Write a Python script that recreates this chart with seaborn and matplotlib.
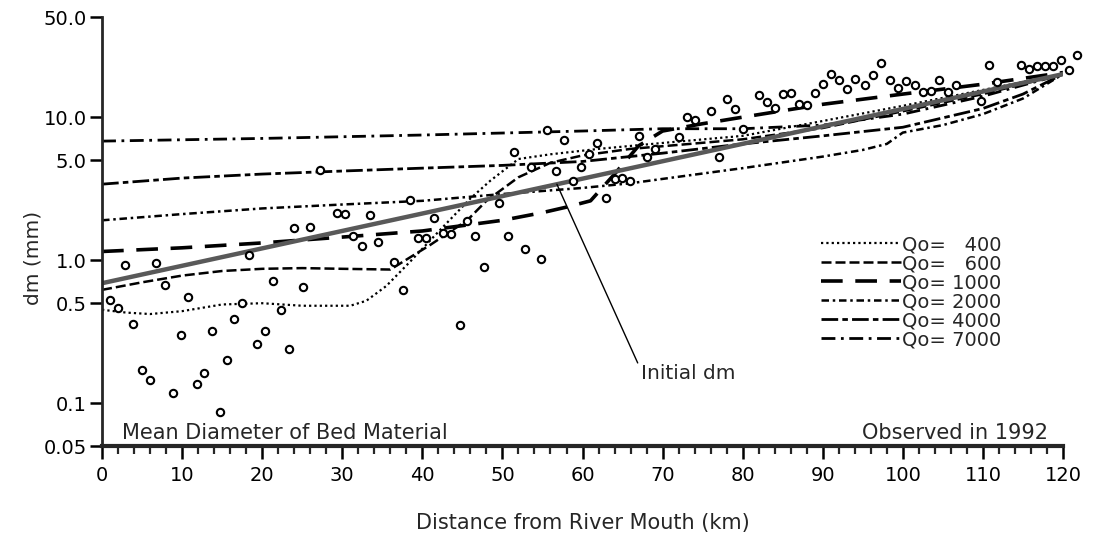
import numpy as np
import matplotlib
matplotlib.use("Agg")
import matplotlib.pyplot as plt
import seaborn as sns
from matplotlib.lines import Line2D

# observed 1992 mean diameter (km, mm)
obs_km = [1.0, 2.0, 2.9, 3.9, 5.0, 6.0, 6.8, 7.8, 8.9, 9.8, 10.7, 11.8, 12.7, 13.7,
          14.7, 15.6, 16.5, 17.5, 18.3, 19.4, 20.4, 21.3, 22.3, 23.3, 24.0, 25.1,
          26.0, 27.2, 29.3, 30.4, 31.4, 32.5, 33.4, 34.5, 36.5, 37.6, 38.4, 39.5,
          40.5, 41.5, 42.6, 43.6, 44.7, 45.6, 46.6, 47.7, 49.6, 50.7, 51.5, 52.8,
          53.6, 54.8, 55.6, 56.7, 57.7, 58.8, 59.8, 60.8, 61.8, 62.9, 64.1, 64.9,
          65.9, 67.0, 68.0, 69.0, 72.0, 73.0, 74.0, 76.0, 77.0, 78.0, 79.0, 80.0,
          82.0, 83.0, 84.0, 85.0, 86.0, 87.0, 88.0, 89.0, 90.0, 91.0, 92.0, 93.0,
          94.0, 95.3, 96.3, 97.3, 98.4, 99.4, 100.4, 101.5, 102.5, 103.5, 104.5,
          105.6, 106.6, 109.7, 110.7, 111.7, 114.8, 115.8, 116.7, 117.8, 118.8,
          119.8, 120.8, 121.8]
obs_dm = [0.53, 0.46, 0.93, 0.36, 0.171, 0.145, 0.95, 0.67, 0.117, 0.30, 0.55, 0.137,
          0.163, 0.32, 0.087, 0.20, 0.39, 0.50, 1.08, 0.26, 0.32, 0.72, 0.45, 0.24,
          1.68, 0.65, 1.71, 4.3, 2.12, 2.09, 1.47, 1.26, 2.07, 1.34, 0.97, 0.62,
          2.63, 1.44, 1.42, 1.98, 1.56, 1.52, 0.35, 1.88, 1.47, 0.90, 2.52, 1.47,
          5.7, 1.19, 4.47, 1.02, 8.1, 4.2, 6.9, 3.6, 4.47, 5.5, 6.6, 2.7, 3.7, 3.75,
          3.6, 7.4, 5.25, 6.0, 7.3, 9.95, 9.5, 11.1, 5.25, 13.5, 11.4, 8.2, 14.2,
          12.8, 11.5, 14.5, 14.7, 12.3, 12.1, 14.7, 17.1, 20.1, 18.2, 15.8, 18.4,
          16.8, 19.8, 24.0, 18.2, 15.9, 17.8, 16.9, 15.1, 15.2, 18.2, 15.0, 16.7,
          13.0, 23.3, 17.6, 23.0, 21.8, 22.9, 22.7, 22.9, 25.0, 21.3, 27.4]

# initial dm (straight on log axis)
init_km = [0, 120]
init_dm = [0.69, 20.0]

# computed dm for each discharge Qo
q400_km = [0, 3, 6, 10, 15, 20, 25, 31, 33, 35.5, 38.5, 42, 46, 48.5, 52, 56, 62,
           70, 80, 90, 100, 110, 120]
q400_dm = [0.45, 0.43, 0.42, 0.44, 0.49, 0.50, 0.48, 0.48, 0.52, 0.66, 0.98, 1.58,
           2.7, 3.6, 5.1, 5.5, 6.0, 6.6, 7.4, 9.4, 12.0, 15.5, 20.0]
q600_km = [0, 5, 10, 15, 20, 25, 30, 36, 41, 45.6, 48, 52, 56, 60, 66, 72, 80, 90,
           100, 110, 120]
q600_dm = [0.62, 0.70, 0.78, 0.84, 0.87, 0.88, 0.87, 0.86, 1.28, 1.9, 2.6, 3.8,
           4.8, 5.4, 6.0, 6.4, 7.0, 8.4, 11.0, 14.5, 20.0]
q1000_km = [0, 10, 20, 30, 40, 50, 55, 58, 61, 64, 67, 70, 75, 80, 90, 100, 110, 120]
q1000_dm = [1.15, 1.22, 1.32, 1.45, 1.6, 1.9, 2.15, 2.35, 2.6, 4.0, 6.3, 8.0, 9.0,
            10.0, 12.3, 14.5, 17.0, 20.5]
q2000_km = [0, 10, 20, 30, 40, 50, 60, 66, 70, 80, 90, 95, 98, 100, 105, 110, 115, 120]
q2000_dm = [1.9, 2.1, 2.3, 2.45, 2.6, 2.9, 3.2, 3.45, 3.7, 4.4, 5.3, 5.9, 6.5, 7.8,
            8.8, 10.5, 13.5, 20.0]
q4000_km = [0, 10, 20, 30, 40, 50, 60, 70, 80, 90, 100, 110, 115, 120]
q4000_dm = [3.4, 3.75, 4.0, 4.2, 4.4, 4.6, 4.9, 5.6, 6.5, 7.4, 8.5, 11.5, 14.5, 20.0]
q7000_km = [0, 20, 40, 60, 70, 80, 90, 100, 110, 120]
q7000_dm = [6.8, 7.1, 7.5, 8.0, 8.3, 8.3, 8.8, 10.5, 14.0, 20.0]

qo_labels = ["Qo=   400", "Qo=   600", "Qo= 1000", "Qo= 2000", "Qo= 4000", "Qo= 7000"]
x_ticks = list(range(0, 121, 10))
y_ticks = [0.05, 0.1, 0.5, 1.0, 5.0, 10.0, 50.0]
y_ticklabels = ["0.05", "0.1", "0.5", "1.0", "5.0", "10.0", "50.0"]

sns.set_style("ticks")
plt.rcParams["font.family"] = ["DejaVu Sans"]

fig = plt.figure(figsize=(11.02, 5.55), dpi=100)
ax = fig.add_axes([0.0926, 0.196, 0.872, 0.773])

curves = [
    (q400_km, q400_dm, (0, (1, 1.4)), 1.6),
    (q600_km, q600_dm, (0, (4, 1.6)), 1.8),
    (q1000_km, q1000_dm, (0, (6, 3.5)), 2.6),
    (q2000_km, q2000_dm, (0, (3, 1.5, 1, 1.5)), 1.8),
    (q4000_km, q4000_dm, (0, (6, 1.5, 2, 1.5)), 2.0),
    (q7000_km, q7000_dm, (0, (5, 2, 1, 2)), 2.0),
]
handles = []
for (xs, ys, ls, lw), lab in zip(curves, qo_labels):
    sns.lineplot(x=xs, y=ys, ax=ax, color="black", linestyle=ls, linewidth=lw,
                 sort=False, estimator=None)
    handles.append(Line2D([], [], color="black", linestyle=ls, linewidth=lw))

sns.lineplot(x=init_km, y=init_dm, ax=ax, color="0.35", linewidth=3.2,
             sort=False, estimator=None)

sns.scatterplot(x=obs_km, y=obs_dm, ax=ax, marker="o", s=28, facecolor="white",
                edgecolor="black", linewidth=1.5, clip_on=False, zorder=5)

ax.set_yscale("log")
ax.set_xlim(0, 120)
ax.set_ylim(0.05, 50)
ax.set_yticks(y_ticks)
ax.set_yticklabels(y_ticklabels)
ax.yaxis.set_minor_locator(plt.NullLocator())
ax.set_xticks(x_ticks)
ax.set_xticks(np.arange(0, 121, 2), minor=True)
ax.tick_params(axis="both", which="major", labelsize=14, width=1.8, length=9,
               direction="out", colors="black")
ax.tick_params(axis="x", which="minor", width=1.6, length=6, direction="out")
ax.tick_params(axis="x", which="major", pad=5)
ax.tick_params(axis="y", which="major", pad=2)
for side in ["top", "right"]:
    ax.spines[side].set_visible(False)
ax.spines["bottom"].set_linewidth(3)
ax.spines["left"].set_linewidth(2)

ax.set_xlabel("Distance from River Mouth (km)", fontsize=15)
ax.xaxis.set_label_coords(0.5, -0.155)
ax.set_ylabel("dm (mm)", fontsize=14.5)
ax.yaxis.set_label_coords(-0.062, 0.44)

ax.text(0.021, 0.008, "Mean Diameter of Bed Material", transform=ax.transAxes,
        fontsize=15, ha="left", va="bottom")
ax.text(0.984, 0.008, "Observed in 1992", transform=ax.transAxes,
        fontsize=15, ha="right", va="bottom")

# leader for the initial dm line
x_lead = 56.8
y_lead = 10 ** np.interp(x_lead, init_km, np.log10(init_dm))
ax.annotate("Initial dm", xy=(x_lead, y_lead), xytext=(67.3, 0.16),
            fontsize=14.5, ha="left", va="center",
            arrowprops=dict(arrowstyle="-", color="black", lw=1,
                            shrinkA=0, shrinkB=0, relpos=(0, 0.7)))

ax.legend(handles, qo_labels, loc="upper left", bbox_to_anchor=(0.74, 0.51),
          frameon=False, fontsize=14, handlelength=4.1, handletextpad=0.05,
          labelspacing=0.0, borderaxespad=0)

fig.savefig("out.png", dpi=100, facecolor="white")
